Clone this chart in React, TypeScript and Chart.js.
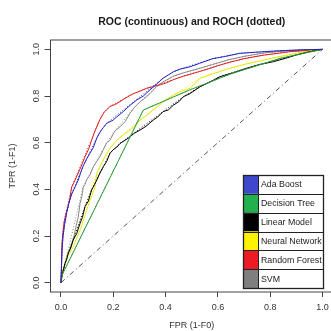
import React, { useEffect, useRef } from 'react';
import { Chart, registerables } from 'chart.js';
Chart.register(...registerables);

const FONT = '"Liberation Sans", Arial, Helvetica, sans-serif';

const titleText = 'ROC (continuous) and ROCH (dotted)';
const xTitle = 'FPR (1-F0)';
const yTitle = 'TPR (1-F1)';
const tickValues = [0, 0.2, 0.4, 0.6, 0.8, 1.0];

const modelNames = ['Ada Boost', 'Decision Tree', 'Linear Model', 'Neural Network', 'Random Forest', 'SVM'];
const lineColors = ['#2323c2', '#2e9a3a', '#000000', '#e8e800', '#e02020', '#8a8a8a'];
const swatchColors = ['#3f48cc', '#22b14c', '#000000', '#fff200', '#ed1c24', '#7f7f7f'];

const adaFpr = [0, 0.002, 0.004, 0.008, 0.014, 0.022, 0.03, 0.041, 0.054, 0.066, 0.075, 0.085, 0.098, 0.111, 0.124, 0.137, 0.149, 0.162, 0.175, 0.2, 0.213, 0.238, 0.264, 0.29, 0.315, 0.34, 0.365, 0.39, 0.41, 0.43, 0.455, 0.493, 0.53, 0.58, 0.63, 0.684, 0.75, 0.837, 0.92, 1.0];
const adaTpr = [0, 0.06, 0.14, 0.2, 0.25, 0.3, 0.34, 0.38, 0.41, 0.44, 0.47, 0.5, 0.53, 0.555, 0.58, 0.62, 0.645, 0.665, 0.683, 0.697, 0.71, 0.733, 0.76, 0.783, 0.8, 0.826, 0.85, 0.876, 0.89, 0.904, 0.915, 0.925, 0.94, 0.96, 0.97, 0.983, 0.988, 0.994, 0.998, 1.0];

const treeFpr = [0, 0.003, 0.315, 0.49, 0.65, 0.84, 1.0];
const treeTpr = [0, 0.03, 0.74, 0.825, 0.895, 0.962, 1.0];

const linFpr = [0, 0.004, 0.009, 0.015, 0.022, 0.028, 0.038, 0.047, 0.06, 0.073, 0.082, 0.092, 0.105, 0.117, 0.128, 0.137, 0.149, 0.162, 0.175, 0.187, 0.2, 0.213, 0.226, 0.245, 0.264, 0.28, 0.302, 0.325, 0.353, 0.37, 0.39, 0.41, 0.43, 0.45, 0.468, 0.493, 0.532, 0.57, 0.608, 0.66, 0.71, 0.76, 0.812, 0.86, 0.9, 0.95, 1.0];
const linTpr = [0, 0.03, 0.054, 0.08, 0.1, 0.126, 0.15, 0.183, 0.21, 0.254, 0.28, 0.326, 0.35, 0.397, 0.42, 0.44, 0.47, 0.497, 0.52, 0.554, 0.57, 0.58, 0.597, 0.61, 0.625, 0.64, 0.654, 0.67, 0.697, 0.71, 0.733, 0.74, 0.761, 0.775, 0.797, 0.81, 0.84, 0.86, 0.883, 0.9, 0.919, 0.935, 0.947, 0.962, 0.976, 0.99, 1.0];

const nnFpr = [0, 0.006, 0.012, 0.022, 0.035, 0.047, 0.06, 0.073, 0.086, 0.098, 0.11, 0.13, 0.137, 0.155, 0.175, 0.19, 0.213, 0.24, 0.264, 0.28, 0.302, 0.325, 0.353, 0.37, 0.39, 0.41, 0.43, 0.46, 0.493, 0.532, 0.58, 0.646, 0.7, 0.774, 0.84, 0.9, 0.95, 1.0];
const nnTpr = [0, 0.04, 0.07, 0.11, 0.13, 0.154, 0.19, 0.226, 0.27, 0.31, 0.35, 0.41, 0.469, 0.51, 0.554, 0.58, 0.61, 0.635, 0.654, 0.67, 0.697, 0.715, 0.74, 0.755, 0.775, 0.79, 0.804, 0.82, 0.833, 0.876, 0.895, 0.919, 0.935, 0.954, 0.97, 0.983, 0.993, 1.0];

const rfFpr = [0, 0.002, 0.004, 0.008, 0.012, 0.02, 0.028, 0.034, 0.041, 0.05, 0.066, 0.078, 0.092, 0.105, 0.117, 0.13, 0.149, 0.165, 0.187, 0.21, 0.238, 0.26, 0.277, 0.3, 0.328, 0.35, 0.379, 0.4, 0.43, 0.468, 0.5, 0.53, 0.56, 0.6, 0.646, 0.7, 0.774, 0.83, 0.876, 0.94, 1.0];
const rfTpr = [0, 0.08, 0.17, 0.22, 0.26, 0.3, 0.33, 0.36, 0.41, 0.43, 0.47, 0.5, 0.54, 0.57, 0.61, 0.65, 0.7, 0.73, 0.755, 0.765, 0.785, 0.8, 0.81, 0.82, 0.833, 0.84, 0.848, 0.855, 0.87, 0.885, 0.895, 0.905, 0.915, 0.93, 0.945, 0.96, 0.975, 0.983, 0.99, 0.995, 1.0];

const svmFpr = [0, 0.004, 0.008, 0.015, 0.025, 0.035, 0.041, 0.05, 0.06, 0.066, 0.073, 0.08, 0.085, 0.092, 0.098, 0.11, 0.124, 0.137, 0.149, 0.162, 0.175, 0.187, 0.206, 0.226, 0.245, 0.264, 0.28, 0.302, 0.32, 0.34, 0.365, 0.39, 0.43, 0.47, 0.52, 0.58, 0.64, 0.7, 0.78, 0.86, 0.93, 1.0];
const svmTpr = [0, 0.03, 0.05, 0.083, 0.12, 0.15, 0.169, 0.2, 0.254, 0.28, 0.34, 0.37, 0.41, 0.42, 0.44, 0.46, 0.497, 0.52, 0.54, 0.57, 0.6, 0.61, 0.65, 0.668, 0.69, 0.726, 0.75, 0.775, 0.79, 0.81, 0.84, 0.86, 0.885, 0.9, 0.915, 0.935, 0.955, 0.97, 0.985, 0.993, 0.997, 1.0];

const diagX = [0, 1];
const diagY = [0, 1];

const fprs = [adaFpr, treeFpr, linFpr, nnFpr, rfFpr, svmFpr];
const tprs = [adaTpr, treeTpr, linTpr, nnTpr, rfTpr, svmTpr];

type P = { x: number; y: number };

function toPoints(xs: number[], ys: number[]): P[] {
  return xs.map((x, i) => ({ x, y: ys[i] }));
}

function upperHull(pts: P[]): P[] {
  const sorted = [...pts].sort((a, b) => a.x - b.x || a.y - b.y);
  const h: P[] = [];
  for (const p of sorted) {
    while (h.length >= 2) {
      const o = h[h.length - 2];
      const a = h[h.length - 1];
      const cr = (a.x - o.x) * (p.y - o.y) - (a.y - o.y) * (p.x - o.x);
      if (cr >= 0) h.pop();
      else break;
    }
    h.push(p);
  }
  return h;
}

const titlePlugin = {
  id: 'rTitle',
  afterDraw(chart: any) {
    const { ctx, chartArea } = chart;
    ctx.save();
    ctx.font = `bold 10.5px ${FONT}`;
    ctx.fillStyle = '#1a1a1a';
    ctx.textAlign = 'center';
    ctx.textBaseline = 'alphabetic';
    ctx.fillText(titleText, (chartArea.left + chartArea.right) / 2, 25);
    ctx.restore();
  },
};

const boxPlugin = {
  id: 'rBox',
  afterDraw(chart: any) {
    const { ctx, chartArea } = chart;
    ctx.save();
    ctx.strokeStyle = '#444';
    ctx.lineWidth = 1;
    ctx.strokeRect(chartArea.left, chartArea.top, chartArea.right - chartArea.left, chartArea.bottom - chartArea.top);
    ctx.restore();
  },
};

const legendPlugin = {
  id: 'tableLegend',
  afterDraw(chart: any) {
    const { ctx } = chart;
    const lx = 243, ly = 175, lw = 80, lh = 113, sw = 15;
    const rh = lh / modelNames.length;
    ctx.save();
    ctx.fillStyle = '#fff';
    ctx.fillRect(lx, ly, lw, lh);
    modelNames.forEach((name, i) => {
      ctx.fillStyle = swatchColors[i];
      ctx.fillRect(lx, ly + i * rh, sw, rh);
    });
    ctx.save();
    ctx.beginPath();
    ctx.rect(lx + sw, ly, lw - sw, lh);
    ctx.clip();
    ctx.font = `8.8px ${FONT}`;
    ctx.fillStyle = '#222';
    ctx.textAlign = 'left';
    ctx.textBaseline = 'middle';
    modelNames.forEach((name, i) => {
      ctx.fillText(name, lx + sw + 3, ly + (i + 0.5) * rh + 0.5);
    });
    ctx.restore();
    ctx.strokeStyle = '#222';
    ctx.lineWidth = 1;
    ctx.beginPath();
    for (let i = 1; i < modelNames.length; i++) {
      const y = Math.round(ly + i * rh) + 0.5;
      ctx.moveTo(lx, y);
      ctx.lineTo(lx + lw, y);
    }
    ctx.moveTo(lx + sw + 0.5, ly);
    ctx.lineTo(lx + sw + 0.5, ly + lh);
    ctx.stroke();
    ctx.lineWidth = 1.3;
    ctx.strokeRect(lx + 0.5, ly + 0.5, lw, lh);
    ctx.restore();
  },
};

export default function App() {
  const ref = useRef<HTMLCanvasElement | null>(null);
  useEffect(() => {
    if (!ref.current) return;
    const datasets: any[] = [];
    datasets.push({
      data: toPoints(diagX, diagY),
      borderColor: '#555',
      borderWidth: 1,
      borderDash: [5, 3, 1, 3],
      pointRadius: 0,
      showLine: true,
      fill: false,
    });
    modelNames.forEach((name, i) => {
      const pts = toPoints(fprs[i], tprs[i]);
      datasets.push({
        label: name + ' ROCH',
        data: upperHull([{ x: 0, y: 0 }, ...pts, { x: 1, y: 1 }]),
        borderColor: lineColors[i],
        borderWidth: 1,
        borderDash: [1, 2],
        pointRadius: 0,
        showLine: true,
        fill: false,
      });
      datasets.push({
        label: name,
        data: pts,
        borderColor: lineColors[i],
        borderWidth: 1,
        pointRadius: 0,
        showLine: true,
        fill: false,
      });
    });

    const tickFont = { size: 9, family: FONT };
    const fmt = (v: any) => Number(v).toFixed(1);
    const chart = new Chart(ref.current, {
      type: 'scatter',
      data: { datasets },
      options: {
        animation: false,
        responsive: false,
        devicePixelRatio: 1,
        layout: { padding: { top: 40, right: 12, left: 0, bottom: 0 } },
        plugins: { legend: { display: false }, tooltip: { enabled: false }, title: { display: false } },
        scales: {
          x: {
            type: 'linear',
            position: 'bottom',
            min: -0.04,
            max: 1.04,
            afterBuildTicks: (s: any) => { s.ticks = tickValues.map((v) => ({ value: v })); },
            afterFit: (s: any) => { s.height = 39; },
            ticks: { font: tickFont, color: '#333', padding: 5, autoSkip: false, maxRotation: 0, minRotation: 0, callback: fmt },
            grid: { drawOnChartArea: false, drawTicks: true, tickLength: 5, color: '#444', lineWidth: 1 },
            border: { display: false },
            title: { display: true, text: xTitle, font: tickFont, color: '#333', padding: { top: 0, bottom: 0 } },
          },
          y: {
            type: 'linear',
            min: -0.04,
            max: 1.04,
            afterBuildTicks: (s: any) => { s.ticks = tickValues.map((v) => ({ value: v })); },
            afterFit: (s: any) => { s.width = 50.5; },
            ticks: { font: tickFont, color: '#333', padding: 2, autoSkip: false, minRotation: 90, maxRotation: 90, crossAlign: 'center', callback: fmt },
            grid: { drawOnChartArea: false, drawTicks: true, tickLength: 6, color: '#444', lineWidth: 1 },
            border: { display: false },
            title: { display: true, text: yTitle, font: tickFont, color: '#333', padding: { top: 7, bottom: 0 } },
          },
        },
      } as any,
      plugins: [titlePlugin, boxPlugin, legendPlugin],
    });
    return () => chart.destroy();
  }, []);

  return (
    <div style={{ position: 'fixed', left: 0, top: 0, width: 331, height: 331, overflow: 'hidden', background: '#fff' }}>
      <canvas ref={ref} width={345} height={331} style={{ display: 'block', width: 345, height: 331 }} />
    </div>
  );
}
